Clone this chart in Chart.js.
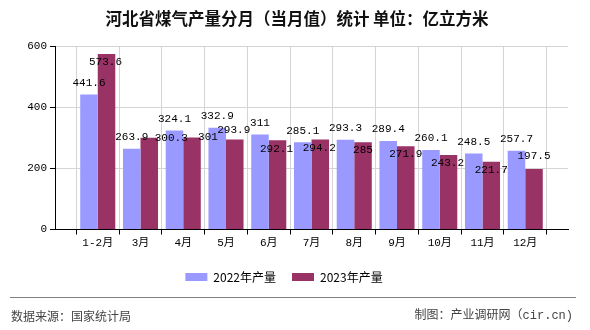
<!DOCTYPE html>
<html>
<head>
<meta charset="utf-8">
<script src="https://cdn.jsdelivr.net/npm/chart.js@4.4.0/dist/chart.umd.min.js"></script>
<style>
    html, body { margin: 0; padding: 0; background: #fff; }
</style>
</head>
<body>
<canvas id="gas-chart" width="590" height="330"></canvas>
<script>
var months = ['1-2月', '3月', '4月', '5月', '6月', '7月', '8月', '9月', '10月', '11月', '12月'];
var output2022 = [441.6, 263.9, 324.1, 332.9, 311, 285.1, 293.3, 289.4, 260.1, 248.5, 257.7];
var output2023 = [573.6, 300.3, 301, 293.9, 292.1, 294.2, 285, 271.9, 243.2, 221.7, 197.5];
var seriesNames = ['2022年产量', '2023年产量'];
var yTicks = [0, 200, 400, 600];

var titleText = '河北省煤气产量分月（当月值）统计 单位：亿立方米';
var sourceText = '数据来源：国家统计局';
var creditText = '制图：产业调研网（cir.cn)';

var monoFont = '"Liberation Mono", "Noto Sans CJK SC"';
var cjkFont = '"Noto Sans CJK SC"';

// the category axis has an empty slot at each end, like the original
var labels = [''].concat(months, ['']);
function pad(values) {
    return [null].concat(values, [null]);
}

// where each 2023 label sits relative to its bar top (the original shuffles a few around)
var redLabelShift = [[-1, 8], [22, 0], [16, 0], [-1, -9.5], [-1, 9], [-1, 9], [0, 8], [0, 8], [-1, 8], [0, 8], [0, -13]];

var valueLabels = {
    id: 'valueLabels',
    afterDatasetsDraw: function(chart) {
        var ctx = chart.ctx;
        ctx.save();
        ctx.font = '11px ' + monoFont;
        ctx.fillStyle = '#000';
        ctx.textAlign = 'center';
        ctx.textBaseline = 'middle';
        chart.data.datasets.forEach(function(ds, di) {
            var meta = chart.getDatasetMeta(di);
            meta.data.forEach(function(bar, i) {
                var v = ds.data[i];
                if (v === null) return;
                var dx = 0, dy = -11.5;
                if (di === 1) {
                    dx = redLabelShift[i - 1][0];
                    dy = redLabelShift[i - 1][1];
                }
                ctx.fillText(String(v), bar.x + dx, bar.y + dy);
            });
        });
        ctx.restore();
    }
};

var frameText = {
    id: 'frameText',
    afterDraw: function(chart) {
        var ctx = chart.ctx;
        ctx.save();
        ctx.fillStyle = '#111';
        ctx.textBaseline = 'middle';
        ctx.textAlign = 'center';
        ctx.font = 'bold 16.5px ' + cjkFont;
        ctx.fillText(titleText, 297, 19);

        ctx.strokeStyle = '#808080';
        ctx.lineWidth = 1;
        ctx.beginPath();
        ctx.moveTo(10, 297.5);
        ctx.lineTo(576, 297.5);
        ctx.stroke();

        ctx.fillStyle = '#444';
        ctx.font = '12px ' + cjkFont;
        ctx.textAlign = 'left';
        ctx.fillText(sourceText, 11, 316);
        ctx.textAlign = 'right';
        ctx.font = '12px ' + monoFont;
        ctx.fillText(creditText, 573, 316);
        ctx.restore();
    }
};

new Chart(document.getElementById('gas-chart'), {
    type: 'bar',
    data: {
        labels: labels,
        datasets: [
            {
                label: seriesNames[0],
                data: pad(output2022),
                backgroundColor: '#9999ff',
                categoryPercentage: 0.82,
                barPercentage: 1
            },
            {
                label: seriesNames[1],
                data: pad(output2023),
                backgroundColor: '#993366',
                categoryPercentage: 0.82,
                barPercentage: 1
            }
        ]
    },
    options: {
        responsive: false,
        animation: false,
        devicePixelRatio: 1,
        layout: {
            padding: { left: 0, right: 22, top: 46, bottom: 37 }
        },
        plugins: {
            title: { display: false },
            tooltip: { enabled: false },
            legend: {
                position: 'bottom',
                labels: {
                    boxWidth: 22,
                    boxHeight: 8,
                    padding: 16,
                    color: '#000',
                    font: { family: cjkFont, size: 12 }
                }
            }
        },
        scales: {
            x: {
                type: 'category',
                offset: false,
                grid: { color: '#d4d4d4', tickColor: '#000', tickLength: 5 },
                border: { color: '#000' },
                ticks: {
                    autoSkip: false,
                    maxRotation: 0,
                    minRotation: 0,
                    padding: 2,
                    color: '#000',
                    font: { family: monoFont, size: 11 }
                },
                afterFit: function(scale) {
                    scale.height = 25.5;
                }
            },
            y: {
                min: 0,
                max: 600,
                grid: { color: '#d4d4d4', tickColor: '#000', tickLength: 5 },
                border: { color: '#000' },
                ticks: {
                    padding: 3,
                    color: '#000',
                    font: { family: monoFont, size: 11 }
                },
                afterBuildTicks: function(axis) {
                    axis.ticks = yTicks.map(function(v) { return { value: v }; });
                },
                afterFit: function(scale) {
                    scale.width = 55;
                }
            }
        }
    },
    plugins: [valueLabels, frameText]
});
</script>
</body>
</html>
